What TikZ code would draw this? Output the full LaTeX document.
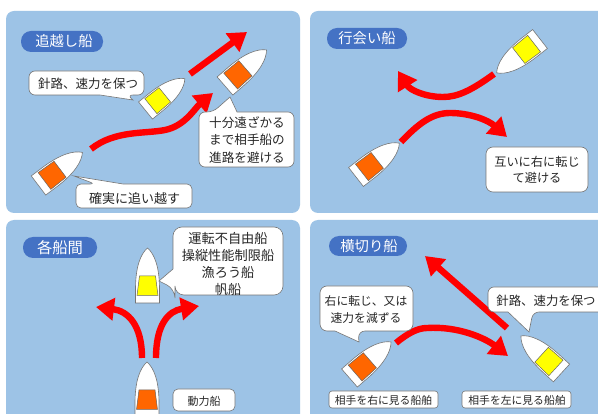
\documentclass[tikz,border=0pt]{standalone}
\usepackage{fontspec}
\setmainfont{Noto Sans CJK JP}
\usetikzlibrary{arrows.meta}
\definecolor{panelblue}{HTML}{9DC3E6}
\definecolor{pillblue}{HTML}{4472C4}
\definecolor{cabinor}{HTML}{FF6600}
\definecolor{cabinye}{HTML}{FFFF00}
\definecolor{linegray}{HTML}{767676}
\definecolor{inktext}{HTML}{262626}
\tikzset{
  panel/.style={fill=panelblue,draw=none,rounded corners=8pt},
  pill/.style={fill=pillblue,draw=none,rounded corners=10pt},
  pilltext/.style={text=white,font=\fontsize{14.3}{14}\selectfont,inner sep=0pt},
  callout/.style={fill=white,draw=linegray,line width=0.6pt},
  calltext/.style={text=inktext,align=center,inner sep=0pt},
  hull/.style={fill=white,draw=linegray,line width=0.6pt},
  cabin/.style={draw=black!60,line width=0.5pt},
  route/.style={draw=red,line width=6.4pt,-{Triangle[length=18pt,width=22pt]}},
}
% x, y, rotation, scale, cabin colour, half width of the cabin's front edge
\newcommand{\shipshape}[6]{%
  \begin{scope}[shift={(#1,#2)},rotate=#3,scale=#4]
    \path[hull] (-12,0) -- (-12,-14) .. controls (-12,-36) and (-7,-49) .. (0,-55)
      .. controls (7,-49) and (12,-36) .. (12,-14) -- (12,0) -- cycle;
    \path[cabin,fill=#5] (-10.5,-7.5) -- (10.5,-7.5) -- (#6,-27) -- (-#6,-27) -- cycle;
  \end{scope}}
\begin{document}
\begin{tikzpicture}[x=1pt,y=-1pt]
\useasboundingbox (0,0) rectangle (598,414);
\clip (0,0) rectangle (598,414);
\fill[white] (0,0) rectangle (598,414);
% panels
\path[panel] (6,11) rectangle (300,213);
\path[panel] (310,11) rectangle (620,213);
\path[panel] (6,220) rectangle (300,430);
\path[panel] (310,220) rectangle (620,430);
% title pills
\path[pill] (21,31) rectangle (103,52);
\node[pilltext] (t1) at (64,41.5) {追越し船};
\path[pill] (327,28) rectangle (407,49);
\node[pilltext] (t2) at (367,38.5) {行会い船};
\path[pill] (23,237) rectangle (97,258);
\node[pilltext,font=\fontsize{15.3}{15}\selectfont] (t3) at (60,247.5) {各船間};
\path[pill] (329,236) rectangle (407,256);
\node[pilltext] (t4) at (369,246) {横切り船};
% ships
\shipshape{145.5}{110.5}{-51}{0.92}{cabinye}{10}
\shipshape{225}{86}{-49}{1}{cabinor}{10}
\shipshape{38.5}{185.5}{-53}{1}{cabinor}{10}
\shipshape{540}{39}{128}{1}{cabinye}{10}
\shipshape{356}{177}{-52}{1}{cabinor}{10}
\shipshape{147.5}{303}{0}{1}{cabinye}{8}
\shipshape{147}{417}{0}{1}{cabinor}{8}
\shipshape{349.5}{378}{-49}{1}{cabinor}{10}
\shipshape{561.5}{373}{47.5}{1}{cabinye}{10}
% routes
\coordinate (a1s) at (190,74);  \coordinate (a1e) at (247,32);
\draw[route] (a1s) -- (a1e);
\coordinate (a2s) at (91,149);  \coordinate (a2m) at (165,130); \coordinate (a2e) at (213,93);
\draw[route] (a2s) .. controls (115,130) and (145,134) .. (a2m) .. controls (185,126) and (195,108) .. (a2e);
\coordinate (a3s) at (494,74);  \coordinate (a3m) at (443,97);  \coordinate (a3e) at (398,71);
\draw[route] (a3s) .. controls (472,90) and (458,97) .. (a3m) .. controls (425,97) and (410,90) .. (a3e);
\coordinate (a4s) at (401,142); \coordinate (a4m) at (450,113); \coordinate (a4e) at (507,137);
\draw[route] (a4s) .. controls (418,124) and (432,113) .. (a4m) .. controls (470,113) and (488,120) .. (a4e);
\coordinate (a5s) at (142,358); \coordinate (a5e) at (96,307);
\draw[route] (a5s) .. controls (142,325) and (128,311) .. (a5e);
\coordinate (a6s) at (156,358); \coordinate (a6e) at (199,306);
\draw[route] (a6s) .. controls (156,325) and (168,311) .. (a6e);
\coordinate (a7s) at (507,328); \coordinate (a7e) at (425,256);
\draw[route] (a7s) -- (a7e);
\coordinate (a8s) at (396,343); \coordinate (a8m) at (427,328); \coordinate (a8e) at (508,356);
\draw[route] (a8s) .. controls (408,333) and (418,328) .. (a8m) .. controls (458,326) and (485,338) .. (a8e);
% callouts
\path[callout,rounded corners=6pt] (80,71) -- (144,71) -- (144,95) -- (127,95) [sharp corners] -- (133,100) -- (100,95) [rounded corners=6pt] -- (29,95) -- (29,71) -- cycle;
\node[calltext,font=\fontsize{12.5}{14}\selectfont] (c1) at (88,84) {針路、速力を保つ};
\path[callout,rounded corners=6pt] (270,112) -- (294,112) -- (294,167) -- (199,167) -- (199,112) -- (213,112) [sharp corners] -- (230,97) -- (237,112) [rounded corners=6pt] -- cycle;
\node[calltext,font=\fontsize{12.6}{17.5}\selectfont] (c2) at (247,140) {十分遠ざかる\\まで相手船の\\進路を避ける};
\path[callout,rounded corners=5pt] (160,184) -- (192,184) -- (192,208) -- (76,208) -- (76,184) -- (95,184) [sharp corners] -- (74,176) -- (123,184) [rounded corners=5pt] -- cycle;
\node[calltext,font=\fontsize{13}{14}\selectfont] (c3) at (134.5,199) {確実に追い越す};
\path[callout,rounded corners=7pt] (486,147) rectangle (588,192);
\node[calltext,font=\fontsize{12.2}{16.5}\selectfont] (c4) at (537,170) {互いに右に転じ\\て避ける};
\path[callout,rounded corners=9pt] (230,227) -- (283,227) -- (283,295) -- (175,295) -- (175,289) [sharp corners] -- (159,281) -- (173,269) [rounded corners=9pt] -- (173,227) -- cycle;
\node[calltext,font=\fontsize{13.2}{16.7}\selectfont] (c5) at (228,264) {運転不自由船\\操縦性能制限船\\漁ろう船\\帆船};
\path[callout,rounded corners=5pt] (173,389) rectangle (235,411);
\node[calltext,font=\fontsize{11}{14}\selectfont] (c6) at (204,401) {動力船};
\path[callout,rounded corners=7pt] (365,286) -- (413,286) -- (413,331) -- (358,331) [sharp corners] -- (359,342) -- (335,331) [rounded corners=7pt] -- (320,331) -- (320,286) -- cycle;
\node[calltext,font=\fontsize{11.8}{16.7}\selectfont] (c7) at (366,309.5) {右に転じ、又は\\速力を減ずる};
\path[callout,rounded corners=6pt] (540,287) -- (610,287) -- (610,312) -- (533,312) [sharp corners] -- (529,332) -- (508,312) [rounded corners=6pt] -- (488,312) -- (488,287) -- cycle;
\node[calltext,font=\fontsize{12.4}{14}\selectfont] (c8) at (546,301) {針路、速力を保つ};
\path[callout,rounded corners=3pt] (329,391) rectangle (438,408);
\node[calltext,font=\fontsize{10.8}{14}\selectfont] (c9) at (383.5,400) {相手を右に見る船舶};
\path[callout,rounded corners=3pt] (462,391) rectangle (571,408);
\node[calltext,font=\fontsize{10.8}{14}\selectfont] (c10) at (517,400) {相手を左に見る船舶};
\end{tikzpicture}
\end{document}
